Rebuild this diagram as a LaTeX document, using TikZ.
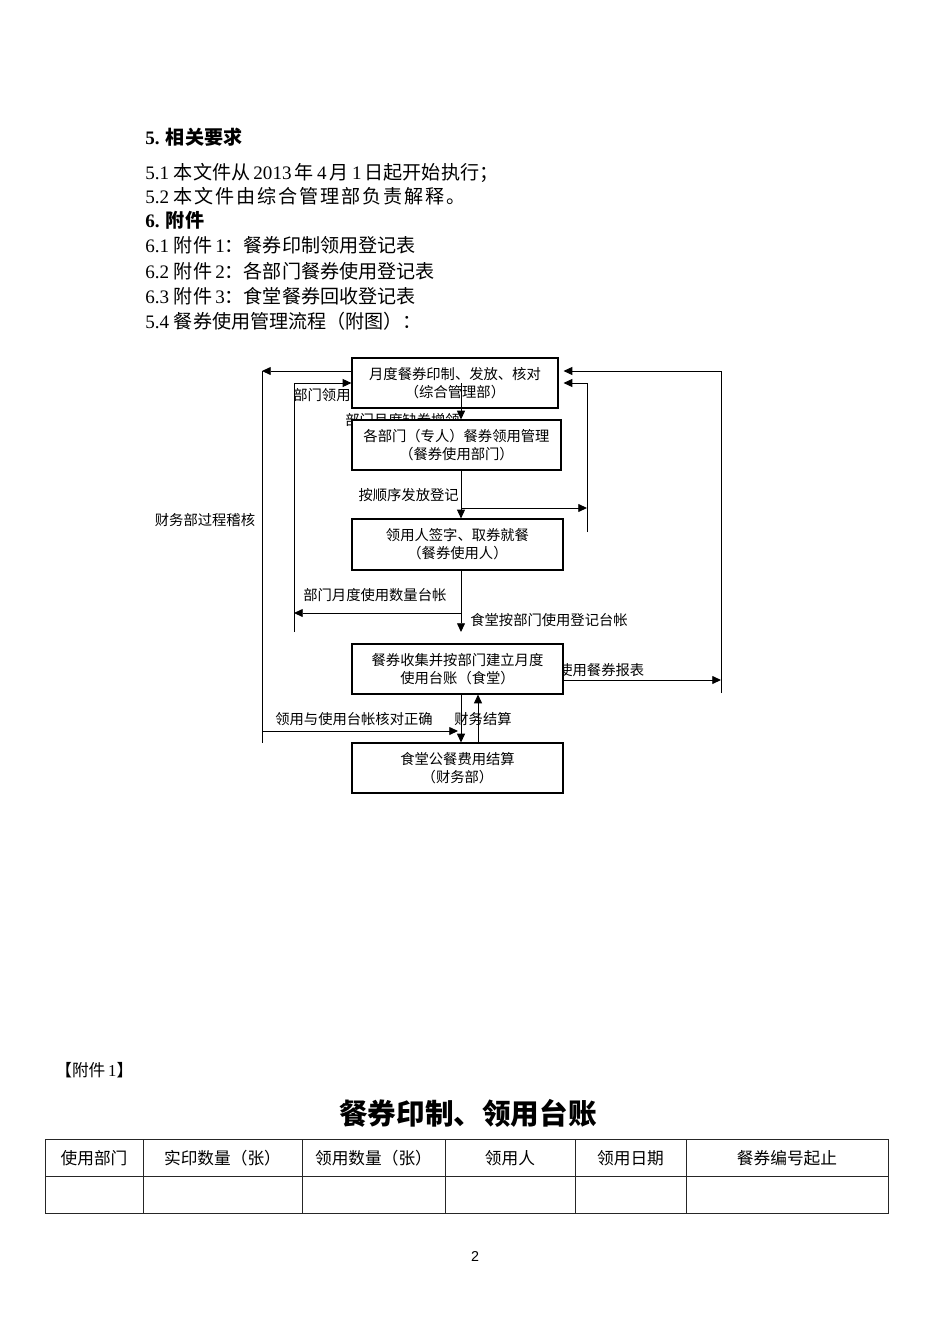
\documentclass[tikz,border=0pt]{standalone}
\usepackage{fontspec}
\setmainfont{Liberation Serif}
\newfontfamily\cjk{Noto Sans CJK SC}
\newfontfamily\cjkwide[LetterSpace=10]{Noto Sans CJK SC}
\newfontfamily\pagefont{Liberation Sans}
\usetikzlibrary{arrows.meta,positioning}
\newcommand\flowfont{\cjk\fontsize{9}{11.3}\selectfont}
\newcommand\bodyfont{\cjk\fontsize{12}{14}\selectfont}
\newcommand\en[1]{{\rmfamily #1}}
\begin{document}
\begin{tikzpicture}[x=0.221053mm,y=-0.221053mm,
    box/.style={draw,fill=white,line width=0.7pt,align=center,inner sep=0pt,font=\flowfont},
    lbl/.style={inner sep=0pt,font=\flowfont},
    body/.style={inner sep=0pt,anchor=west,font=\bodyfont},
    arr/.style={-{Triangle[length=5.5pt,width=5pt]},line width=0.6pt}]
    \useasboundingbox[fill=white] (0,0) rectangle (950,1344);
    % text above the chart
    \node[body] (req) at (145,137) {\en{\bfseries 5. }\bfseries 相关要求};
    \node[body] (req1) at (145,173) {\en{5.1 }本文件从\en{\,2013\,}年\en{\,4\,}月\en{\,1\,}日起开始执行；};
    \node[body] (req2) at (145,196) {\en{5.2 }\cjkwide 本文件由综合管理部负责解释。};
    \node[body] (att) at (145,220) {\en{\bfseries 6. }\bfseries 附件};
    \node[body] (att1) at (145,245) {\en{6.1 }附件\en{\,1}：餐券印制领用登记表};
    \node[body] (att2) at (145,271) {\en{6.2 }附件\en{\,2}：各部门餐券使用登记表};
    \node[body] (att3) at (145,296) {\en{6.3 }附件\en{\,3}：食堂餐券回收登记表};
    \node[body] (flow) at (145,321) {\en{5.4 }餐券使用管理流程（附图）：};
    % labels partly hidden by the boxes
    \node[lbl,anchor=west] (lbUse) at (293,395) {部门领用登记};
    \node[lbl,anchor=west] (lbAdd) at (345,420) {部门月度缺券增领};
    \node[lbl,anchor=west] (lbRep) at (558,670) {使用餐券报表};
    % boxes
    \node[box,minimum width=129.6pt,minimum height=31.4pt] (A) at (455,383) {月度餐券印制、发放、核对\\（综合管理部）};
    \node[box,minimum width=131.5pt,minimum height=31.4pt] (B) at (456.5,445) {各部门（专人）餐券领用管理\\（餐券使用部门）};
    \node[box,minimum width=132.7pt,minimum height=32.1pt] (C) at (457.5,544.5) {领用人签字、取券就餐\\（餐券使用人）};
    \node[box,minimum width=132.7pt,minimum height=31.4pt] (D) at (457.5,669) {餐券收集并按部门建立月度\\使用台账（食堂）};
    \node[box,minimum width=132.7pt,minimum height=31.4pt] (E) at (457.5,768) {食堂公餐费用结算\\（财务部）};
    % line positions
    \coordinate (mid) at (461,0);
    \coordinate (mid2) at (478,0);
    \coordinate (loT) at (262,371);
    \coordinate (loM) at (262,731);
    \coordinate (loB) at (262,743);
    \coordinate (liT) at (294,383);
    \coordinate (liM) at (294,613);
    \coordinate (liB) at (294,632);
    \coordinate (riT) at (587,383);
    \coordinate (riM) at (587,508);
    \coordinate (riB) at (587,532);
    \coordinate (roT) at (721,371);
    \coordinate (roM) at (721,680);
    \coordinate (roB) at (721,693);
    \coordinate (dIn) at (461,632);
    \coordinate (eIn) at (458,731);
    % connectors
    \draw[arr] (A.west |- loT) -- (loT);
    \draw[line width=0.6pt] (loT) -- (loB);
    \draw[arr] (loM) -- (eIn);
    \draw[arr] (liB) -- (liT) -- (A.west);
    \draw[arr] (mid |- liM) -- (liM);
    \draw[arr] (A.center -| mid) -- (B.north -| mid);
    \draw[arr] (B.south -| mid) -- (C.north -| mid);
    \draw[arr] (mid |- riM) -- (riM);
    \draw[arr] (riB) -- (riT) -- (C.east |- riT);
    \draw[arr] (roB) -- (roT) -- (C.east |- roT);
    \draw[arr] (C.south -| mid) -- (dIn);
    \draw[arr] (D.east |- roM) -- (roM);
    \draw[arr] (D.south -| mid) -- (E.north -| mid);
    \draw[arr] (E.north -| mid2) -- (D.south -| mid2);
    % labels
    \node[lbl,anchor=east] (lbIss) at (459,495) {按顺序发放登记};
    \node[lbl,anchor=west] (lbDept) at (303,595) {部门月度使用数量台帐};
    \node[lbl,anchor=west] (lbCant) at (470,620) {食堂按部门使用登记台帐};
    \node[lbl,anchor=west] (lbChk) at (275,719) {领用与使用台帐核对正确};
    \node[lbl] (lbPay) at (483,719) {财务结算};
    \node[lbl] (lbAud) at (205,520) {财务部过程稽核};
    % attachment 1
    \node[inner sep=0pt,anchor=west,font=\cjk\fontsize{10.5}{12}\selectfont] (app) at (55,1070) {【附件\en{\,1}】};
    \node[inner sep=0pt,font=\cjk\bfseries\fontsize{18}{20}\selectfont] (title) at (468,1113) {餐券印制、领用台账};
    \draw[line width=0.6pt,black!85] (45,1139) rectangle (888,1213);
    \draw[line width=0.6pt,black!85] (45,1176) -- (888,1176);
    \foreach \x in {143,302,445,575,686}
        \draw[line width=0.6pt,black!85] (\x,1139) -- (\x,1213);
    \foreach \x/\t in {94/使用部门,222.5/实印数量（张）,373.5/领用数量（张）,510/领用人,630.5/领用日期,787/餐券编号起止}
        \node[inner sep=0pt,font=\cjk\fontsize{10.5}{12}\selectfont] (h\x) at (\x,1158) {\t};
    \node[inner sep=0pt,font=\pagefont\fontsize{9}{10}\selectfont] (page) at (475,1256) {2};
\end{tikzpicture}
\end{document}
